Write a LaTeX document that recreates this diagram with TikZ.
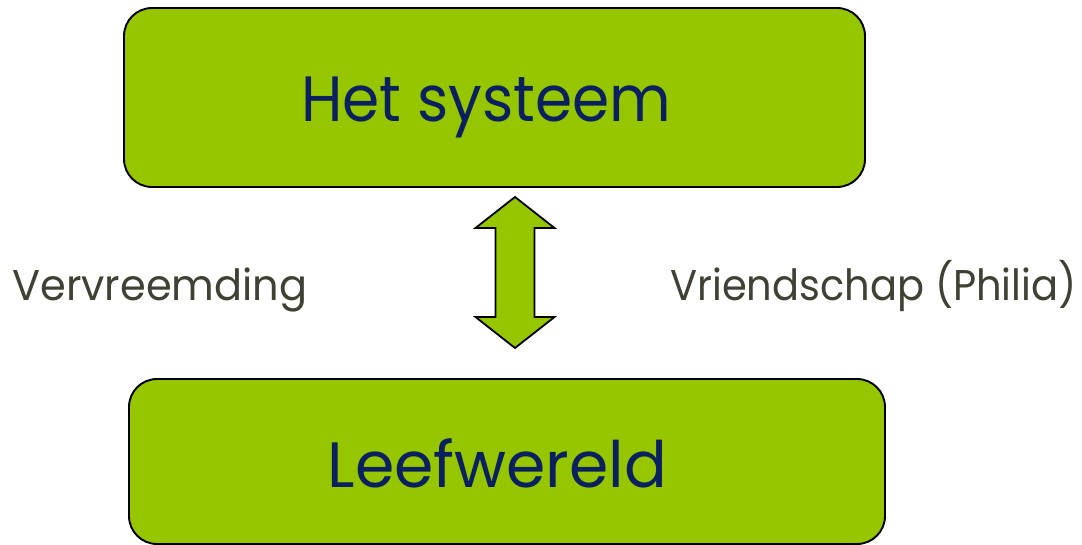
\documentclass[tikz,border=0pt]{standalone}
\usepackage{fontspec}
\setmainfont{Poppins}
\definecolor{boxgreen}{RGB}{149,198,0}
\definecolor{navytext}{RGB}{10,32,96}
\definecolor{labelgray}{RGB}{64,64,52}
\begin{document}
\begin{tikzpicture}[x=1pt,y=-1pt,
  box/.style={draw=black,line width=1.9pt,fill=boxgreen,rounded corners=28pt,inner sep=0pt},
  boxtext/.style={text=navytext,font=\fontsize{64}{70}\selectfont,anchor=base,inner sep=0pt},
  sidelabel/.style={text=labelgray,font=\fontsize{43}{48}\selectfont,anchor=base,inner sep=0pt},
  arrowshape/.style={draw=black,line width=1.8pt,fill=boxgreen,line join=miter}]
\useasboundingbox (0,0) rectangle (1082,545);
\node[box,minimum width=741pt,minimum height=179pt] (sys) at (494.5,97.5) {};
\node[box,minimum width=756pt,minimum height=165pt] (leef) at (507,461.5) {};
\node[boxtext] (systxt) at (486.5,122) {\scalebox{0.935}[1]{Het systeem}};
\node[boxtext] (leeftxt) at (497.5,487) {\scalebox{0.99}[1]{Leefwereld}};
\coordinate (ac) at (515,272.5);
\draw[arrowshape] (ac) ++(0,-75.5) -- ++(39.5,31) -- ++(-20,0) -- ++(0,89) -- ++(20,0)
  -- ++(-39.5,31) -- ++(-39.5,-31) -- ++(20,0) -- ++(0,-89) -- ++(-20,0) -- cycle;
\node[sidelabel] (vv) at (160,301) {\scalebox{0.965}[1]{Vervreemding}};
\node[sidelabel] (vr) at (873.5,301) {\scalebox{0.93}[1]{Vriendschap (Philia)}};
\end{tikzpicture}
\end{document}
